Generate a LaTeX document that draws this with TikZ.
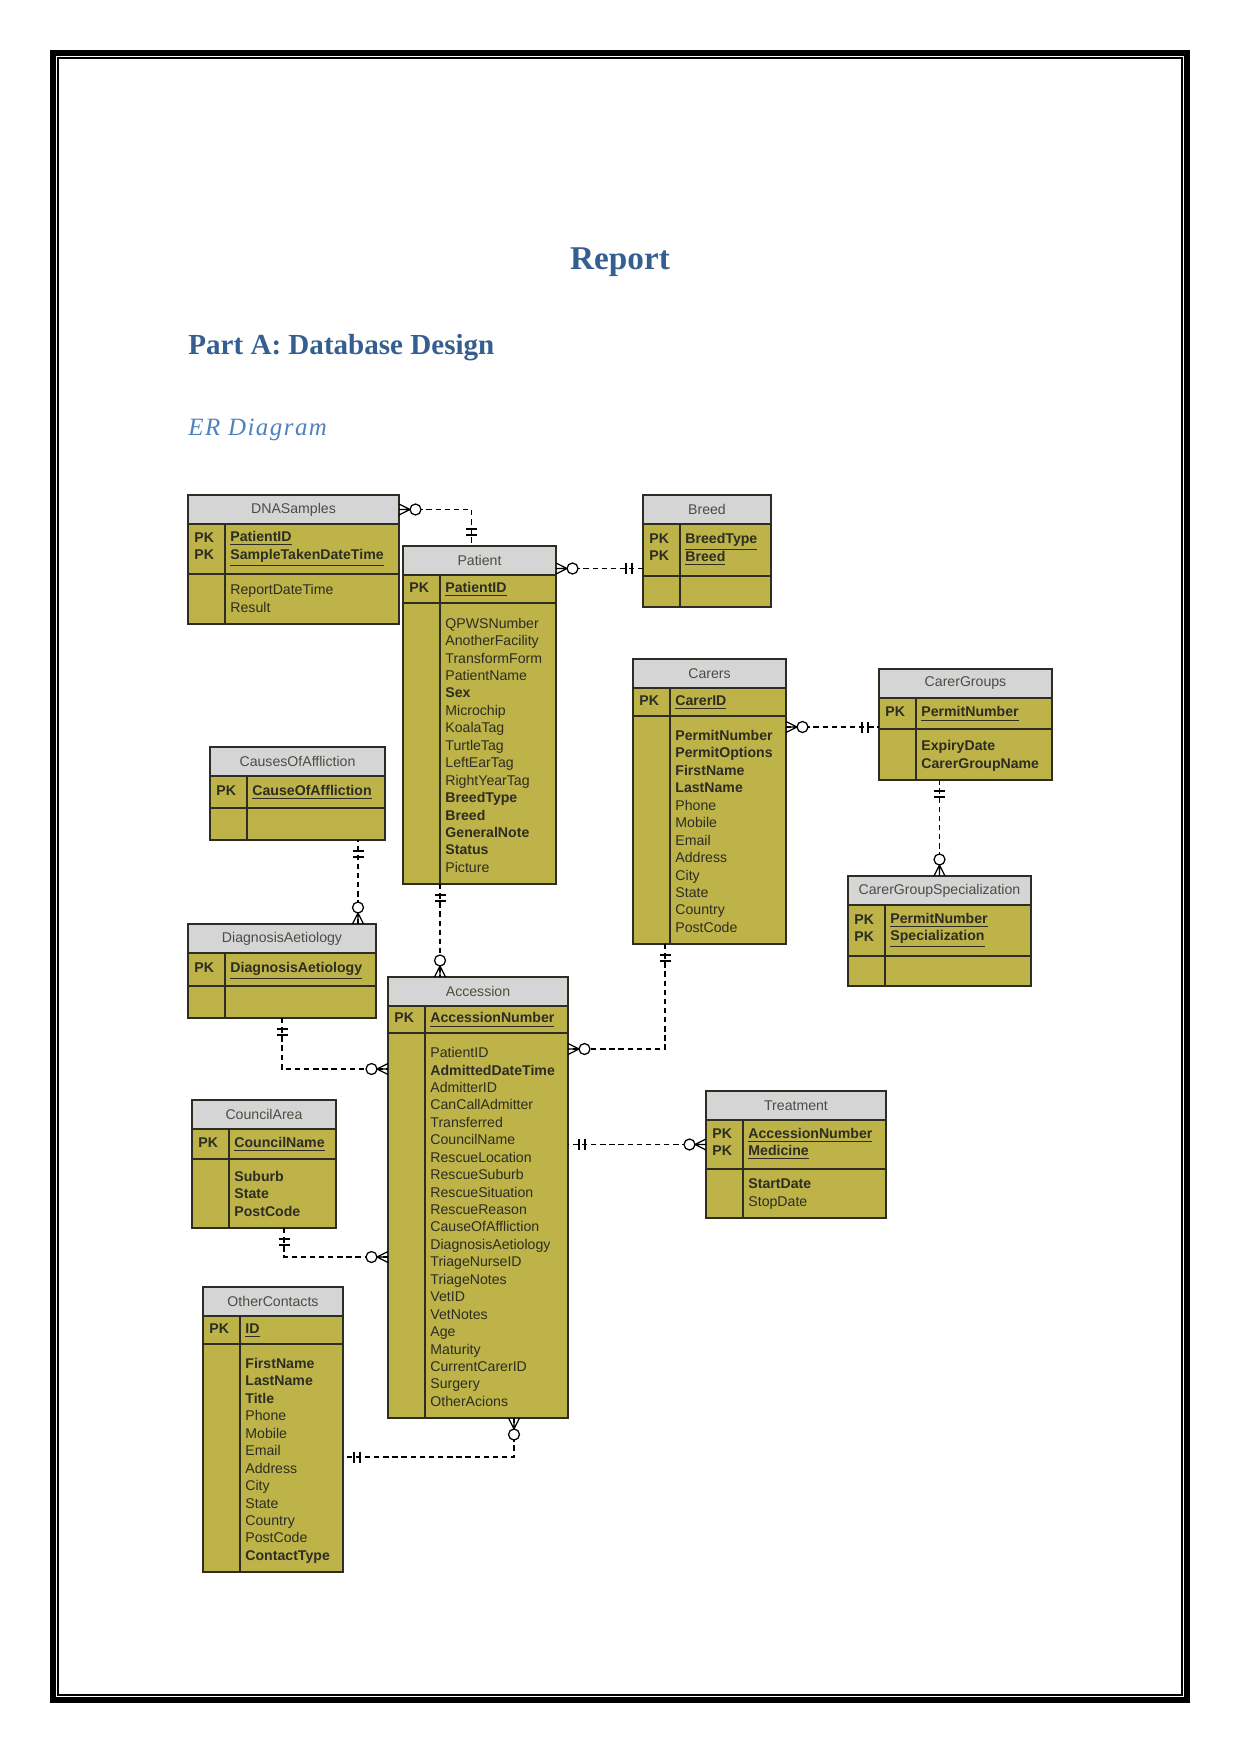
\documentclass[tikz,border=0pt]{standalone}
\usepackage{fontspec}
\setmainfont{Liberation Sans}
\newfontfamily\headfont{Liberation Serif}
\newfontfamily\subfont[LetterSpace=6]{Liberation Serif}
\usetikzlibrary{calc}
\definecolor{erolive}{RGB}{189,179,72}
\definecolor{ergrey}{RGB}{213,213,213}
\definecolor{erink}{RGB}{45,45,35}
\definecolor{headblue}{RGB}{54,95,145}
\definecolor{subblue}{RGB}{79,129,189}

\newcommand{\erpk}{\textbf{PK}}
\newcommand{\erkey}[1]{\underline{\textbf{#1}}}
% name, top left, width, key height, attribute height, title, PK column, keys, attributes
\newcommand{\ertable}[9]{%
  \node[erhead, wh={#3}{29}, anchor=north west] (#1) at (#2) {#6};
  \node[erbody, wh={#3}{#4}, anchor=north west] (#1-k) at (#1.south west) {};
  \node[erbody, wh={#3}{#5}, anchor=north west] (#1-a) at (#1-k.south west) {};
  \draw[erline] ($(#1-k.north west)+(37,0)$) -- ($(#1-a.south west)+(37,0)$);
  \node[ertext, anchor=west] at ($(#1-k.west)+(6,0)$) {#7};
  \node[ertext, anchor=west] at ($(#1-k.west)+(42,0)$) {#8};
  \node[ertext, anchor=south west] at ($(#1-a.south west)+(42,-6)$) {#9};
}

\begin{document}
\begin{tikzpicture}[
    x=0.4817pt, y=-0.4817pt,
    wh/.style 2 args={minimum width=#1*0.4817pt, minimum height=#2*0.4817pt},
    heading/.style={inner sep=0, anchor=base west},
    erhead/.style={rectangle, draw=erink, fill=ergrey, line width=0.7pt, inner sep=0, outer sep=0, text=erink!85, font=\fontsize{6.8}{8.4}\selectfont},
    erbody/.style={rectangle, draw=erink, fill=erolive, line width=0.7pt, inner sep=0, outer sep=0},
    erline/.style={draw=erink, line width=0.7pt},
    ertext/.style={inner sep=0, align=left, text=erink, font=\fontsize{6.8}{8.4}\selectfont, execute at begin node=\strut, execute at end node=\strut},
    rel/.style={dash pattern=on 2.6pt off 1.8pt, line width=0.65pt},
    zmany/.pic={\draw[line width=0.6pt] (0,-5.5) -- (11,0) -- (0,5.5) (0,0) -- (11,0);
                \draw[line width=0.6pt, fill=white] (16.5,0) circle[radius=5.5];},
    onlyone/.pic={\draw[line width=0.6pt] (11,-5.5) -- (11,5.5) (17,-5.5) -- (17,5.5);}
]
    \useasboundingbox (0,0) rectangle (1241,1754);
    \draw[line width=2.9pt] (53,53) rectangle (1187,1700);
    \draw[line width=0.75pt] (58,58) rectangle (1182,1695);

    % Headings
    \node[heading, anchor=base, text=headblue, font={\headfont\bfseries\fontsize{16}{19}\selectfont}] (report) at (620,270) {Report};
    \node[heading, text=headblue, font={\headfont\bfseries\fontsize{14}{17}\selectfont}] (parta) at (188,354) {Part A: Database Design};
    \node[heading, text=subblue, font={\subfont\itshape\fontsize{12}{14}\selectfont}] (erdiag) at (188,435) {ER Diagram};

    % Tables
    \ertable{dna}{188,495}{211}{50}{50}{DNASamples}{\erpk\\\erpk}{\erkey{PatientID}\\\erkey{SampleTakenDateTime}}{ReportDateTime\\Result}
    \ertable{patient}{403,546}{153}{28}{281}{Patient}{\erpk}{\erkey{PatientID}}{QPWSNumber\\AnotherFacility\\TransformForm\\PatientName\\\textbf{Sex}\\Microchip\\KoalaTag\\TurtleTag\\LeftEarTag\\RightYearTag\\\textbf{BreedType}\\\textbf{Breed}\\\textbf{GeneralNote}\\\textbf{Status}\\Picture}
    \ertable{breed}{643,495}{128}{52}{31}{Breed}{\erpk\\\erpk}{\erkey{BreedType}\\\erkey{Breed}}{}
    \ertable{carers}{633,659}{153}{28}{228}{Carers}{\erpk}{\erkey{CarerID}}{\textbf{PermitNumber}\\\textbf{PermitOptions}\\\textbf{FirstName}\\\textbf{LastName}\\Phone\\Mobile\\Email\\Address\\City\\State\\Country\\PostCode}
    \ertable{cgroups}{879,669}{173}{31}{51}{CarerGroups}{\erpk}{\erkey{PermitNumber}}{\textbf{ExpiryDate}\\\textbf{CarerGroupName}}
    \ertable{cgspec}{848,876}{183}{51}{30}{CarerGroupSpecialization}{\erpk\\\erpk}{\erkey{PermitNumber}\\\erkey{Specialization}}{}
    \ertable{causes}{210,747}{175}{32}{32}{CausesOfAffliction}{\erpk}{\erkey{CauseOfAffliction}}{}
    \ertable{diag}{188,924}{188}{33}{32}{DiagnosisAetiology}{\erpk}{\erkey{DiagnosisAetiology}}{}
    \ertable{accession}{388,977}{180}{27}{385}{Accession}{\erpk}{\erkey{AccessionNumber}}{PatientID\\\textbf{AdmittedDateTime}\\AdmitterID\\CanCallAdmitter\\Transferred\\CouncilName\\RescueLocation\\RescueSuburb\\RescueSituation\\RescueReason\\CauseOfAffliction\\DiagnosisAetiology\\TriageNurseID\\TriageNotes\\VetID\\VetNotes\\Age\\Maturity\\CurrentCarerID\\Surgery\\OtherAcions}
    \ertable{treatment}{706,1091}{180}{49}{49}{Treatment}{\erpk\\\erpk}{\erkey{AccessionNumber}\\\erkey{Medicine}}{\textbf{StartDate}\\StopDate}
    \ertable{council}{192,1100}{144}{30}{69}{CouncilArea}{\erpk}{\erkey{CouncilName}}{\textbf{Suburb}\\\textbf{State}\\\textbf{PostCode}}
    \ertable{others}{203,1287}{140}{28}{228}{OtherContacts}{\erpk}{\erkey{ID}}{\textbf{FirstName}\\\textbf{LastName}\\\textbf{Title}\\Phone\\Mobile\\Email\\Address\\City\\State\\Country\\PostCode\\\textbf{ContactType}}

    % Relationships
    \coordinate (c1) at ($(patient.north)+(-8,0)$);
    \coordinate (c2) at ($(patient.east)+(0,8)$);
    \coordinate (c3) at ($(carers-k.east)+(0,25)$);
    \coordinate (c5) at ($(diag.north east)+(-18,0)$);
    \coordinate (c6) at ($(patient-a.south west)+(37,0)$);
    \coordinate (c7) at ($(carers-a.south west)+(32,0)$);
    \coordinate (c7b) at ($(accession-a.north east)+(0,16)$);
    \coordinate (c8) at ($(accession-a.north west)+(0,36)$);
    \coordinate (c9) at ($(council-a.south west)+(92,0)$);
    \coordinate (c9b) at ($(accession-a.north west)+(0,224)$);
    \coordinate (c11) at ($(accession-a.south west)+(126,0)$);
    \coordinate (c11b) at ($(others-a.north east)+(0,113)$);

    \draw[rel] (dna.east) -| (c1);
    \draw[rel] (c2) -- (c2 -| breed.west);
    \draw[rel] (c3) -- (c3 -| cgroups.west);
    \draw[rel] (cgspec.north) -- (cgspec.north |- cgroups-a.south);
    \draw[rel] (c5) -- (c5 |- causes-a.south);
    \draw[rel] (c6) -- (c6 |- accession.north);
    \draw[rel] (c7) |- (c7b);
    \draw[rel] (diag-a.south) |- (c8);
    \draw[rel] (c9) |- (c9b);
    \draw[rel] (treatment-k.west) -- (treatment-k.west -| accession.east);
    \draw[rel] (c11) |- (c11b);

    \pic at (dna.east) {zmany};
    \pic[rotate=90] at (c1) {onlyone};
    \pic at (c2) {zmany};
    \pic[rotate=180] at (c2 -| breed.west) {onlyone};
    \pic at (c3) {zmany};
    \pic[rotate=180] at (c3 -| cgroups.west) {onlyone};
    \pic[rotate=90] at (cgspec.north) {zmany};
    \pic[rotate=270] at (cgspec.north |- cgroups-a.south) {onlyone};
    \pic[rotate=90] at (c5) {zmany};
    \pic[rotate=270] at (c5 |- causes-a.south) {onlyone};
    \pic[rotate=270] at (c6) {onlyone};
    \pic[rotate=90] at (c6 |- accession.north) {zmany};
    \pic[rotate=270] at (c7) {onlyone};
    \pic at (c7b) {zmany};
    \pic[rotate=270] at (diag-a.south) {onlyone};
    \pic[rotate=180] at (c8) {zmany};
    \pic[rotate=270] at (c9) {onlyone};
    \pic[rotate=180] at (c9b) {zmany};
    \pic[rotate=180] at (treatment-k.west) {zmany};
    \pic at (treatment-k.west -| accession.east) {onlyone};
    \pic[rotate=270] at (c11) {zmany};
    \pic at (c11b) {onlyone};
\end{tikzpicture}
\end{document}
